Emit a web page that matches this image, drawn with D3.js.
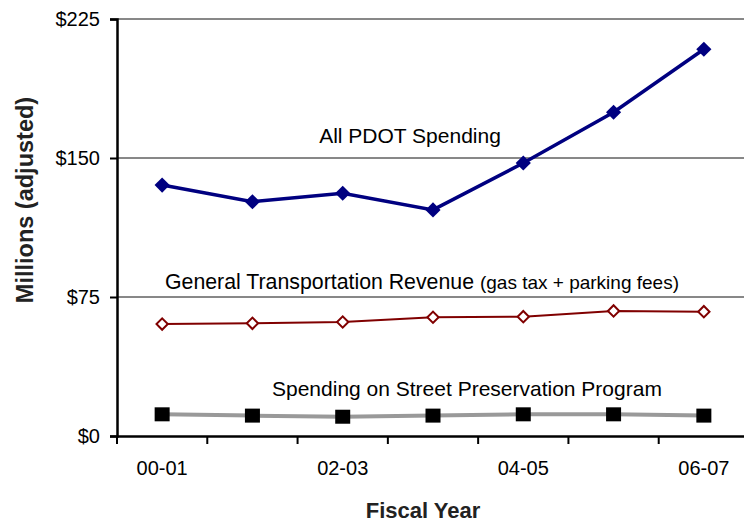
<!DOCTYPE html>
<html><head><meta charset="utf-8">
<script src="https://cdn.jsdelivr.net/npm/d3@7"></script>
<style>body{margin:0;background:#fff}svg{display:block;font-family:"Liberation Sans",Arial,sans-serif}</style>
</head><body>
<svg id="c" width="744" height="525"></svg>
<script>
const years = ["00-01","01-02","02-03","03-04","04-05","05-06","06-07"];
const tickLabels = ["00-01","02-03","04-05","06-07"];
const yTicks = [0,75,150,225];
const pdotSpending = [135.4,126.4,131.0,122.0,147.3,174.7,208.7];
const genRevenue = [60.4,60.8,61.5,64.1,64.4,67.5,67.1];
const streetPres = [11.7,11.0,10.4,11.0,11.7,11.7,11.0];

const svg = d3.select("#c");
const L=117, R=749, T=19, B=436;
const x = d3.scaleBand().domain(years).range([L,R]);
const y = d3.scaleLinear().domain([0,225]).range([B,T]);
const cx = d => x(d)+x.bandwidth()/2;
const FF = "Liberation Sans, Arial, sans-serif";

// gridlines
svg.append("g").selectAll("line").data(yTicks.filter(d=>d>0)).join("line")
  .attr("x1",L).attr("x2",R).attr("y1",d=>y(d)).attr("y2",d=>y(d))
  .attr("stroke","#111").attr("stroke-width",1);

// y axis
const ya = svg.append("g").attr("transform",`translate(${L},0)`)
  .call(d3.axisLeft(y).tickValues(yTicks).tickFormat(d=>"$"+d).tickSize(7).tickPadding(10));
ya.select(".domain").attr("stroke-width",2.5);
ya.selectAll(".tick line").attr("stroke-width",2);
ya.selectAll("text").attr("font-size",20).attr("font-family",FF).attr("fill","#000");

// x axis
const xa = svg.append("g").attr("transform",`translate(0,${B})`)
  .call(d3.axisBottom(x).tickSize(0).tickFormat(""));
xa.select(".domain").attr("stroke-width",2.5);
const bounds = years.map(d=>x(d)).concat([R]);
svg.append("g").selectAll("line").data(bounds).join("line")
  .attr("x1",d=>d).attr("x2",d=>d).attr("y1",B).attr("y2",B+8)
  .attr("stroke","#000").attr("stroke-width",2);
svg.append("g").selectAll("text").data(tickLabels).join("text")
  .attr("x",d=>cx(d)).attr("y",B+39).attr("text-anchor","middle")
  .attr("font-size",20).text(d=>d);

// titles
svg.append("text").attr("x",423).attr("y",518).attr("text-anchor","middle")
  .attr("font-size",22).attr("font-weight","bold").attr("fill","#222").text("Fiscal Year");
svg.append("text").attr("transform","translate(33,200) rotate(-90)").attr("text-anchor","middle")
  .attr("font-size",23.5).attr("font-weight","bold").attr("fill","#222").text("Millions (adjusted)");

const line = d3.line().x((d,i)=>cx(years[i])).y(d=>y(d));

// street preservation
svg.append("path").datum(streetPres).attr("d",line).attr("fill","none")
  .attr("stroke","#999").attr("stroke-width",4);
svg.append("g").selectAll("rect").data(streetPres).join("rect")
  .attr("x",(d,i)=>cx(years[i])-7.5).attr("y",d=>y(d)-7).attr("width",15).attr("height",14)
  .attr("fill","#000");

// general revenue
svg.append("path").datum(genRevenue).attr("d",line).attr("fill","none")
  .attr("stroke","#800000").attr("stroke-width",2);
const diamondOpen = d3.symbol().type(d3.symbolSquare).size(64);
svg.append("g").selectAll("path").data(genRevenue).join("path")
  .attr("d",diamondOpen)
  .attr("transform",(d,i)=>`translate(${cx(years[i])},${y(d)}) rotate(45)`)
  .attr("fill","#fff").attr("stroke","#800000").attr("stroke-width",2);

// PDOT spending
svg.append("path").datum(pdotSpending).attr("d",line).attr("fill","none")
  .attr("stroke","#000080").attr("stroke-width",3.5);
const diamondFill = d3.symbol().type(d3.symbolSquare).size(115);
svg.append("g").selectAll("path").data(pdotSpending).join("path")
  .attr("d",diamondFill)
  .attr("transform",(d,i)=>`translate(${cx(years[i])},${y(d)}) rotate(45)`)
  .attr("fill","#000080");

// labels
svg.append("text").attr("x",410).attr("y",143).attr("text-anchor","middle")
  .attr("font-size",21).text("All PDOT Spending");
const g = svg.append("text").attr("x",165).attr("y",289).attr("font-size",21.3);
g.append("tspan").text("General Transportation Revenue ");
g.append("tspan").attr("font-size",19).text("(gas tax + parking fees)");
svg.append("text").attr("x",272).attr("y",396).attr("font-size",21)
  .text("Spending on Street Preservation Program");
</script>
</body></html>
